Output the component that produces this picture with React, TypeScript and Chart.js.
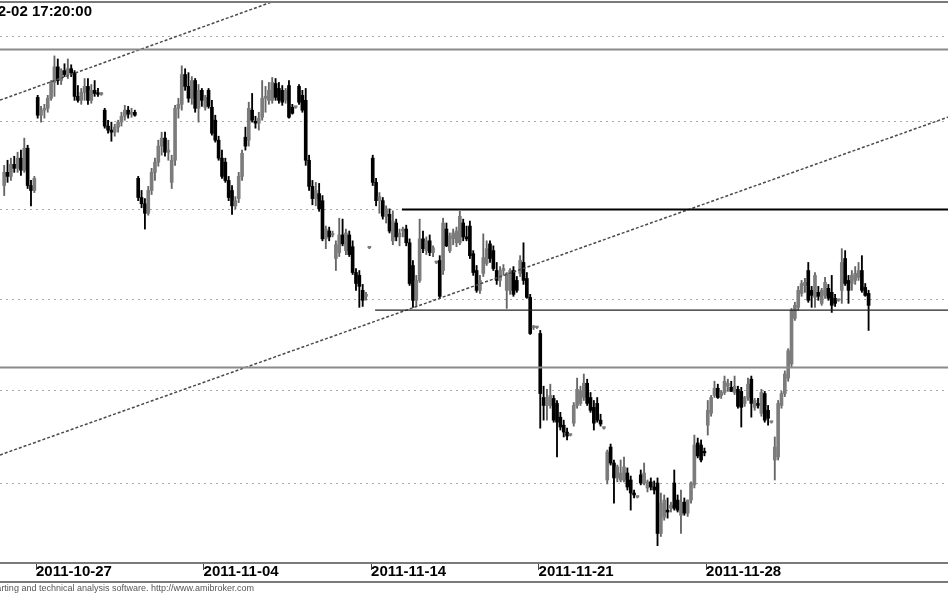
import React, { useEffect, useRef } from 'react';
import { Chart, registerables } from 'chart.js';

Chart.register(...registerables);

// Trading days shown (10 intraday bars per day)
const days = [
  '2011-10-26', '2011-10-27', '2011-10-28', '2011-10-31', '2011-11-02', '2011-11-03',
  '2011-11-04', '2011-11-07', '2011-11-08', '2011-11-09', '2011-11-10', '2011-11-14',
  '2011-11-15', '2011-11-16', '2011-11-17', '2011-11-18', '2011-11-21', '2011-11-22',
  '2011-11-23', '2011-11-24', '2011-11-25', '2011-11-28', '2011-11-29', '2011-11-30',
  '2011-12-01', '2011-12-02',
];
const barsPerDay = 10;
const tickDays = ['2011-10-27', '2011-11-04', '2011-11-14', '2011-11-21', '2011-11-28'];
const titleText = '2011-12-02 17:20:00';
const footerText = 'AmiBroker - charting and technical analysis software. http://www.amibroker.com';

const opens = [
  2363.6, 2371.1, 2368.8, 2375.7, 2373.4, 2379.2, 2372.3, 2384.9, 2363.6, 2360.8,
  2414.2, 2403.9, 2406.8, 2407.9, 2413.7, 2422.9, 2432.0, 2424.0, 2429.8, 2427.5,
  2430.9, 2428.6, 2414.8, 2412.5, 2417.1, 2420.6, 2412.5, 2418.3, 2416.5, 2416.0,
  2406.8, 2397.6, 2395.3, 2394.1, 2397.0, 2399.9, 2403.3, 2406.8, 2404.5, 2405.6,
  2367.7, 2356.8, 2353.3, 2347.9, 2360.8, 2371.1, 2376.9, 2386.1, 2390.7, 2382.6,
  2365.4, 2378.0, 2407.9, 2410.2, 2427.5, 2420.6, 2413.7, 2424.0, 2407.9, 2418.3,
  2408.5, 2418.3, 2408.5, 2401.0, 2389.5, 2379.2, 2376.9, 2366.5, 2360.8, 2352.1,
  2356.2, 2368.8, 2391.2, 2389.5, 2406.8, 2400.4, 2399.3, 2402.7, 2413.7, 2412.5,
  2412.5, 2422.3, 2419.4, 2418.3, 2412.5, 2421.1, 2408.5, 2408.5, 2420.6, 2415.4,
  2412.5, 2378.0, 2363.1, 2356.2, 2359.0, 2355.0, 2333.5, 2337.9, 2335.7, 2322.5,
  2325.8, 2335.7, 2326.9, 2335.7, 2329.1, 2314.7, 2313.1, 2304.8, 2301.5, 2328.5,
  2379.2, 2365.4, 2355.0, 2355.0, 2346.2, 2347.3, 2332.4, 2342.4, 2334.6, 2337.9,
  2339.0, 2331.3, 2318.6, 2299.3, 2310.3, 2333.5, 2326.9, 2332.4, 2325.8, 2320.3,
  2321.4, 2315.8, 2339.0, 2326.9, 2333.5, 2331.3, 2331.3, 2342.4, 2334.6, 2340.7,
  2325.2, 2315.8, 2304.8, 2314.2, 2319.7, 2330.7, 2326.9, 2315.8, 2310.3, 2315.8,
  2304.8, 2304.8, 2315.8, 2310.3, 2314.2, 2320.3, 2311.4, 2300.9, 2284.3, 2284.3,
  2281.0, 2246.2, 2241.9, 2241.9, 2245.7, 2243.0, 2235.6, 2231.3, 2227.6, 2226.0,
  2232.4, 2241.9, 2243.0, 2246.2, 2253.9, 2246.2, 2240.9, 2243.0, 2234.0, 2229.7,
  2202.1, 2219.6, 2211.1, 2203.2, 2202.1, 2202.1, 2205.8, 2202.1, 2195.2, 2193.1,
  2204.8, 2200.5, 2197.9, 2201.1, 2198.4, 2200.5, 2174.0, 2182.5, 2186.2, 2187.2,
  2200.5, 2191.5, 2183.5, 2190.4, 2184.6, 2191.5, 2199.5, 2221.8, 2220.7, 2217.0,
  2231.3, 2237.7, 2247.3, 2251.2, 2247.3, 2248.9, 2252.3, 2251.7, 2248.9, 2250.6,
  2249.5, 2243.0, 2246.2, 2256.1, 2240.9, 2243.0, 2237.7, 2248.3, 2239.3, 2232.9,
  2212.7, 2214.3, 2241.9, 2248.3, 2256.7, 2264.4, 2289.3, 2295.4, 2303.1, 2307.5,
  2315.8, 2304.8, 2300.9, 2303.7, 2297.6, 2302.0, 2305.9, 2303.7, 2300.4, 2299.3,
  2304.8, 2322.5, 2310.3, 2308.6, 2310.3, 2312.0, 2315.8, 2306.4, 2303.1,
];
const highs = [
  2375.1, 2378.0, 2379.2, 2380.3, 2382.6, 2383.8, 2390.7, 2386.6, 2366.5, 2368.8,
  2415.4, 2409.0, 2410.2, 2415.4, 2424.0, 2438.4, 2436.6, 2430.9, 2433.8, 2436.6,
  2433.2, 2429.8, 2421.1, 2419.4, 2425.2, 2425.2, 2421.7, 2424.0, 2419.4, 2417.1,
  2407.9, 2401.0, 2399.9, 2398.7, 2401.0, 2405.6, 2409.6, 2409.0, 2407.9, 2406.8,
  2368.8, 2360.8, 2356.2, 2363.1, 2373.4, 2379.2, 2389.5, 2394.1, 2394.1, 2389.5,
  2380.9, 2409.6, 2413.7, 2432.6, 2430.9, 2428.6, 2426.3, 2425.2, 2421.7, 2419.4,
  2415.4, 2419.4, 2412.5, 2403.9, 2391.8, 2383.8, 2379.2, 2368.8, 2363.6, 2357.3,
  2371.1, 2383.8, 2397.0, 2411.4, 2416.5, 2403.3, 2405.6, 2424.0, 2420.6, 2422.9,
  2425.8, 2425.2, 2422.9, 2421.1, 2419.4, 2424.0, 2410.2, 2409.0, 2421.7, 2418.3,
  2419.4, 2380.9, 2366.5, 2365.4, 2364.8, 2357.9, 2340.7, 2340.1, 2337.9, 2332.4,
  2345.1, 2344.6, 2339.0, 2337.9, 2332.4, 2316.9, 2315.8, 2308.1, 2303.7, 2329.1,
  2380.9, 2367.7, 2359.6, 2356.8, 2352.1, 2350.4, 2349.3, 2344.6, 2339.0, 2340.1,
  2341.2, 2333.5, 2321.4, 2313.1, 2344.6, 2337.9, 2334.6, 2335.7, 2329.6, 2320.8,
  2324.1, 2345.1, 2342.4, 2336.8, 2339.0, 2340.1, 2349.0, 2344.6, 2340.7, 2343.5,
  2326.9, 2318.6, 2313.1, 2336.3, 2332.4, 2332.4, 2329.6, 2320.3, 2318.0, 2319.1,
  2314.7, 2316.9, 2318.0, 2312.5, 2324.1, 2331.3, 2314.7, 2302.6, 2285.4, 2284.9,
  2282.7, 2252.3, 2250.6, 2253.4, 2247.3, 2244.6, 2238.2, 2234.0, 2229.7, 2226.5,
  2243.5, 2256.7, 2252.3, 2258.9, 2256.1, 2248.9, 2244.6, 2246.2, 2237.2, 2230.3,
  2218.0, 2221.2, 2212.7, 2210.0, 2212.7, 2214.3, 2208.5, 2204.2, 2196.8, 2193.6,
  2207.4, 2211.1, 2202.1, 2203.2, 2201.6, 2203.2, 2195.2, 2194.2, 2192.6, 2190.4,
  2207.4, 2194.2, 2196.8, 2192.6, 2191.5, 2201.1, 2226.0, 2224.4, 2223.4, 2219.1,
  2244.6, 2247.3, 2255.0, 2253.4, 2249.9, 2257.8, 2256.1, 2255.0, 2257.8, 2252.3,
  2251.7, 2246.8, 2256.7, 2257.8, 2245.7, 2245.7, 2250.6, 2249.5, 2241.9, 2233.4,
  2225.0, 2244.6, 2249.5, 2260.6, 2272.7, 2294.8, 2298.2, 2307.0, 2310.3, 2311.4,
  2320.3, 2307.0, 2314.7, 2307.0, 2305.9, 2312.0, 2308.1, 2313.1, 2302.6, 2299.8,
  2328.0, 2326.9, 2313.1, 2315.8, 2318.0, 2320.3, 2324.1, 2308.6, 2304.8,
];
const lows = [
  2357.9, 2365.4, 2366.5, 2371.1, 2371.1, 2369.4, 2371.1, 2361.9, 2352.1, 2359.6,
  2402.2, 2399.9, 2402.2, 2405.6, 2412.5, 2414.8, 2421.7, 2421.7, 2426.3, 2425.2,
  2426.3, 2412.5, 2411.4, 2410.2, 2412.5, 2410.2, 2410.8, 2414.8, 2414.8, 2415.4,
  2396.4, 2393.5, 2388.9, 2391.8, 2394.1, 2397.6, 2401.0, 2402.2, 2402.7, 2403.3,
  2355.0, 2351.0, 2339.0, 2346.8, 2358.5, 2366.5, 2374.6, 2380.9, 2380.3, 2378.0,
  2361.9, 2375.1, 2402.2, 2406.8, 2418.3, 2411.4, 2410.2, 2405.6, 2399.9, 2409.0,
  2406.8, 2407.9, 2392.4, 2388.4, 2378.0, 2367.7, 2365.4, 2355.0, 2347.3, 2350.4,
  2353.9, 2366.5, 2383.8, 2386.1, 2399.9, 2396.4, 2395.3, 2401.0, 2405.6, 2410.2,
  2410.8, 2412.5, 2410.8, 2409.6, 2410.8, 2402.2, 2404.5, 2407.9, 2410.2, 2405.6,
  2375.1, 2360.8, 2352.7, 2352.1, 2349.0, 2332.4, 2328.0, 2332.4, 2334.6, 2315.8,
  2323.6, 2329.6, 2324.7, 2323.6, 2313.6, 2304.8, 2295.4, 2295.9, 2299.3, 2328.0,
  2363.6, 2352.1, 2347.9, 2344.6, 2342.4, 2336.8, 2330.2, 2332.4, 2329.6, 2334.6,
  2329.6, 2307.5, 2295.4, 2295.9, 2309.2, 2325.8, 2324.7, 2324.1, 2323.6, 2319.7,
  2300.4, 2313.6, 2329.1, 2325.8, 2330.2, 2329.1, 2330.2, 2332.4, 2332.4, 2322.5,
  2313.1, 2303.7, 2303.1, 2312.5, 2318.6, 2320.3, 2315.8, 2308.1, 2307.0, 2313.1,
  2294.8, 2302.6, 2301.5, 2303.7, 2312.5, 2308.1, 2300.4, 2280.5, 2283.2, 2283.8,
  2229.7, 2234.0, 2234.0, 2240.4, 2232.9, 2214.3, 2228.7, 2225.0, 2223.4, 2225.5,
  2230.8, 2240.4, 2241.9, 2244.6, 2241.9, 2238.2, 2228.7, 2232.9, 2230.8, 2229.2,
  2200.0, 2210.0, 2189.9, 2201.1, 2201.1, 2201.1, 2196.8, 2186.2, 2192.6, 2192.6,
  2199.5, 2199.5, 2195.8, 2196.8, 2194.7, 2167.6, 2172.4, 2180.9, 2182.0, 2185.2,
  2186.2, 2185.2, 2174.0, 2183.5, 2182.9, 2189.9, 2197.9, 2213.8, 2211.7, 2214.9,
  2226.0, 2236.1, 2246.2, 2245.7, 2245.7, 2247.8, 2249.5, 2249.4, 2247.8, 2240.4,
  2230.3, 2241.4, 2244.6, 2235.6, 2239.3, 2240.4, 2236.1, 2232.9, 2231.3, 2232.4,
  2202.1, 2212.7, 2240.4, 2246.7, 2255.0, 2262.8, 2288.2, 2293.8, 2301.5, 2303.7,
  2298.2, 2295.4, 2295.4, 2299.3, 2296.5, 2300.4, 2299.3, 2292.6, 2295.9, 2298.7,
  2297.6, 2307.5, 2297.6, 2304.8, 2308.1, 2310.3, 2303.7, 2301.5, 2282.7,
];
const closes = [
  2371.1, 2368.8, 2375.7, 2373.4, 2379.2, 2372.3, 2384.9, 2363.6, 2360.8, 2367.7,
  2403.9, 2406.8, 2407.9, 2413.7, 2422.9, 2432.0, 2424.0, 2429.8, 2427.5, 2430.9,
  2428.6, 2414.8, 2412.5, 2417.1, 2420.6, 2412.5, 2418.3, 2416.5, 2416.0, 2416.5,
  2397.6, 2395.3, 2394.1, 2397.0, 2399.9, 2403.3, 2406.8, 2404.5, 2405.6, 2403.9,
  2356.8, 2353.3, 2347.9, 2360.8, 2371.1, 2376.9, 2386.1, 2390.7, 2382.6, 2383.8,
  2378.0, 2407.9, 2410.2, 2427.5, 2420.6, 2413.7, 2424.0, 2407.9, 2418.3, 2412.5,
  2414.2, 2409.0, 2393.5, 2389.5, 2379.2, 2368.8, 2366.5, 2356.8, 2352.1, 2355.0,
  2368.8, 2382.0, 2386.1, 2407.9, 2401.0, 2399.3, 2402.2, 2413.7, 2414.8, 2418.3,
  2422.9, 2414.2, 2412.5, 2411.4, 2418.3, 2402.7, 2405.0, 2408.5, 2411.4, 2406.8,
  2378.0, 2363.1, 2356.2, 2360.8, 2350.4, 2333.5, 2339.0, 2334.6, 2336.3, 2330.2,
  2335.7, 2330.7, 2336.8, 2324.7, 2314.7, 2308.6, 2307.0, 2299.3, 2302.6, 2328.5,
  2365.4, 2355.0, 2357.3, 2346.2, 2350.4, 2337.9, 2343.5, 2334.6, 2336.8, 2339.0,
  2331.3, 2308.6, 2299.3, 2310.3, 2333.5, 2328.0, 2332.4, 2325.8, 2328.5, 2320.3,
  2301.5, 2342.4, 2329.6, 2335.2, 2336.8, 2337.9, 2346.2, 2334.6, 2333.5, 2324.1,
  2314.7, 2304.8, 2310.3, 2323.0, 2328.0, 2322.5, 2316.9, 2310.3, 2315.8, 2316.9,
  2314.2, 2315.8, 2302.6, 2304.8, 2321.4, 2310.3, 2300.9, 2281.0, 2284.3, 2284.3,
  2248.3, 2241.9, 2246.2, 2247.3, 2234.0, 2232.9, 2230.3, 2227.6, 2225.5, 2226.0,
  2241.9, 2250.6, 2249.9, 2253.9, 2243.0, 2239.3, 2232.4, 2234.0, 2231.9, 2229.7,
  2217.0, 2211.1, 2203.2, 2209.0, 2205.8, 2209.0, 2198.4, 2195.2, 2194.2, 2193.1,
  2200.5, 2205.8, 2201.1, 2198.4, 2196.8, 2174.0, 2189.9, 2191.5, 2185.2, 2188.8,
  2187.2, 2186.2, 2190.4, 2184.6, 2191.5, 2200.5, 2220.7, 2214.9, 2212.7, 2216.5,
  2239.3, 2246.2, 2251.2, 2246.2, 2248.9, 2255.0, 2253.9, 2249.5, 2252.3, 2241.4,
  2240.9, 2246.2, 2253.4, 2243.0, 2244.6, 2241.9, 2248.9, 2234.0, 2235.0, 2232.9,
  2219.6, 2243.0, 2248.3, 2258.9, 2271.6, 2293.8, 2296.5, 2304.8, 2308.6, 2309.2,
  2299.3, 2302.0, 2313.1, 2301.5, 2304.8, 2309.2, 2300.4, 2296.5, 2297.6, 2299.3,
  2320.3, 2308.6, 2304.8, 2313.1, 2314.2, 2315.8, 2304.8, 2302.0, 2296.5,
];

// Price grid levels (dotted) and drawn study lines
const gridLevels = [2200, 2250, 2300, 2350, 2400, 2450];
const upperTrend = [{ x: -1.25, y: 2412.6 }, { x: 81.4, y: 2471.3 }];
const lowerTrend = [{ x: -1.25, y: 2215.4 }, { x: 281.7, y: 2402.8 }];
const topBand = 2442.2;
const lowBand = 2262.4;
const resistance = 2350;
const resistanceFrom = 118.7;
const support = 2293.9;
const supportFrom = 110.7;

const xMin = -1.25;
const xMax = 281.7;
const yMin = 2158.6;
const yMax = 2470.2;

const FONT = "'Liberation Sans', Arial, sans-serif";

const framePlugin = {
  id: 'frame',
  afterDraw(chart: any) {
    const { ctx, chartArea, scales } = chart;
    ctx.save();
    ctx.strokeStyle = '#7a7a7a';
    ctx.lineWidth = 2;
    ctx.beginPath();
    ctx.moveTo(0, chartArea.top);
    ctx.lineTo(chart.width, chartArea.top);
    ctx.moveTo(0, scales.x.bottom);
    ctx.lineTo(chart.width, scales.x.bottom);
    ctx.stroke();
    ctx.restore();
  },
};

export default function App() {
  const ref = useRef<HTMLCanvasElement | null>(null);

  useEffect(() => {
    if (!ref.current) return;
    const idx = closes.map((_, i) => i);
    const up = idx.map((i) => closes[i] >= opens[i]);
    const bodies = idx.map((i) => ({ x: i, y: [opens[i], closes[i]] }));
    const wicks = idx.map((i) => ({ x: i, y: [lows[i], highs[i]] }));
    const hline = (y: number, from: number) => [{ x: from, y }, { x: xMax, y }];

    const lineDs = (data: any[], color: string, width: number, dash: number[] = []) => ({
      type: 'line' as const,
      data,
      borderColor: color,
      borderWidth: width,
      borderDash: dash,
      pointRadius: 0,
      fill: false,
      tension: 0,
      order: 0,
    });

    const chart = new Chart(ref.current, {
      type: 'bar',
      data: {
        datasets: [
          lineDs(hline(topBand, xMin), '#8a8a8a', 2) as any,
          lineDs(hline(lowBand, xMin), '#8a8a8a', 2) as any,
          lineDs(hline(resistance, resistanceFrom), '#000000', 2) as any,
          lineDs(hline(support, supportFrom), '#222222', 1.2) as any,
          lineDs(upperTrend, '#4a4a4a', 1.5, [3, 2]) as any,
          lineDs(lowerTrend, '#4a4a4a', 1.5, [3, 2]) as any,
          {
            type: 'bar',
            data: bodies as any,
            backgroundColor: up.map((u) => (u ? '#7c7c7c' : '#000000')),
            borderWidth: 0,
            barThickness: 3,
            grouped: false,
            minBarLength: 1.5,
            order: 1,
          },
          {
            type: 'bar',
            data: wicks as any,
            backgroundColor: up.map((u) => (u ? '#666666' : '#000000')),
            borderWidth: 0,
            barThickness: 1.2,
            grouped: false,
            order: 2,
          },
        ],
      },
      options: {
        responsive: false,
        animation: false,
        events: [],
        layout: { padding: { top: 2, bottom: 11, left: 0, right: 0 } },
        plugins: {
          legend: { display: false },
          tooltip: { enabled: false },
          title: { display: false },
        },
        scales: {
          x: {
            type: 'linear',
            position: 'bottom',
            offset: false,
            min: xMin,
            max: xMax,
            afterBuildTicks: (s: any) => {
              s.ticks = tickDays.map((d) => ({ value: days.indexOf(d) * barsPerDay - 0.5 }));
            },
            afterFit: (s: any) => {
              s.height = 19;
            },
            ticks: {
              align: 'start',
              padding: -7,
              maxRotation: 0,
              minRotation: 0,
              autoSkip: false,
              color: '#000000',
              font: { family: FONT, size: 15, weight: 'bold' },
              callback: (v: any) => days[Math.round((Number(v) + 0.5) / barsPerDay)],
            },
            grid: { offset: false, drawOnChartArea: false, drawTicks: true, tickLength: 7, color: '#444444', lineWidth: 1 },
            border: { display: true, color: '#7a7a7a', width: 2 },
          },
          y: {
            type: 'logarithmic',
            position: 'left',
            min: yMin,
            max: yMax,
            afterBuildTicks: (s: any) => {
              s.ticks = gridLevels.map((v) => ({ value: v }));
            },
            ticks: { display: false },
            grid: { drawTicks: false, color: '#a8a8a8', lineWidth: 1 },
            border: { display: false, dash: [2, 4] },
          },
        },
      } as any,
      plugins: [framePlugin],
    });
    return () => chart.destroy();
  }, []);

  return (
    <div
      style={{
        position: 'absolute',
        left: 0,
        top: 0,
        width: 948,
        height: 593,
        overflow: 'hidden',
        background: '#ffffff',
      }}
    >
      <canvas ref={ref} width={948} height={593} style={{ display: 'block', width: 948, height: 593 }} />
      <div
        style={{
          position: 'absolute',
          left: 0,
          top: 2,
          width: 92,
          overflow: 'hidden',
          display: 'flex',
          justifyContent: 'flex-end',
          whiteSpace: 'nowrap',
          font: `bold 15px ${FONT}`,
          lineHeight: '17px',
          color: '#000000',
        }}
      >
        <span style={{ flexShrink: 0 }}>{titleText}</span>
      </div>
      <div
        style={{
          position: 'absolute',
          left: 0,
          top: 583,
          width: 254,
          overflow: 'hidden',
          display: 'flex',
          justifyContent: 'flex-end',
          whiteSpace: 'nowrap',
          font: `9px ${FONT}`,
          lineHeight: '10px',
          color: '#555555',
        }}
      >
        <span style={{ flexShrink: 0 }}>{footerText}</span>
      </div>
    </div>
  );
}
